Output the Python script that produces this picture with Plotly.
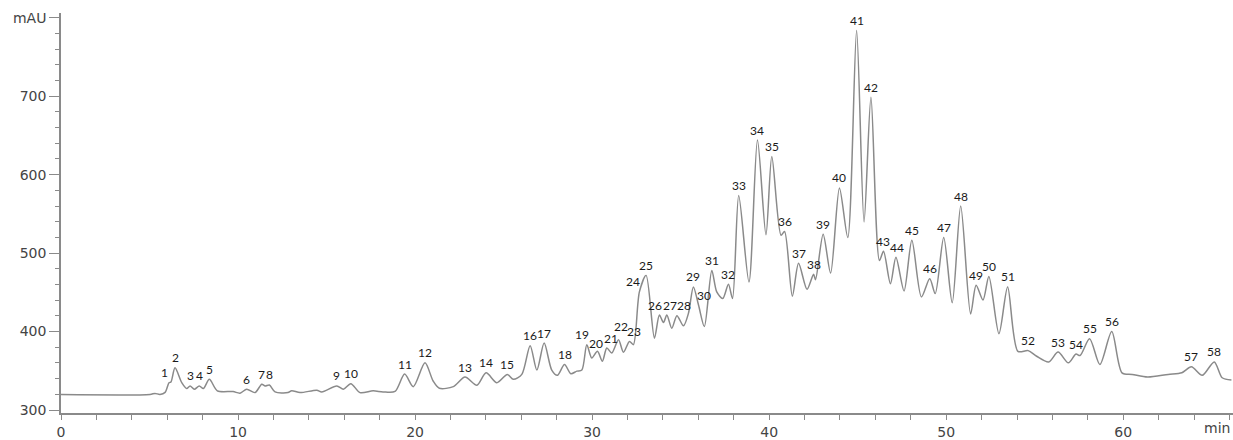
import plotly.graph_objects as go

# Chromatogram trace (time in min, signal in mAU)
trace_time = [0, 5.03, 5.31, 5.59, 5.88, 6.10, 6.21, 6.44, 6.82, 7.10, 7.29, 7.53, 7.81, 8.04, 8.38, 8.83,
              9.72, 10.11, 10.49, 10.96, 11.34, 11.53, 11.77, 12.09, 12.82, 13.03, 13.50, 14.45, 14.73,
              15.58, 15.95, 16.37, 16.89, 17.63, 18.19, 18.87, 19.41, 19.90, 20.56, 21.02, 21.37, 22.16,
              22.82, 23.49, 24.01, 24.62, 25.21, 25.55, 26.03, 26.50, 26.88, 27.29, 27.72, 28.04, 28.44,
              28.80, 29.14, 29.42, 29.70, 29.98, 30.30, 30.58, 30.83, 31.11, 31.49, 31.77, 32.11, 32.33,
              32.67, 33.05, 33.52, 33.80, 34.03, 34.22, 34.50, 34.79, 35.16, 35.44, 35.72, 36.01, 36.34,
              36.76, 37.04, 37.38, 37.70, 37.93, 38.28, 38.86, 39.34, 39.82, 40.15, 40.67, 40.87, 41.31,
              41.66, 42.14, 42.51, 42.62, 43.05, 43.47, 43.97, 44.44, 44.94, 45.36, 45.75, 46.23, 46.46,
              46.85, 47.16, 47.62, 48.06, 48.60, 49.07, 49.38, 49.86, 50.34, 50.82, 51.38, 51.69, 52.08,
              52.41, 52.98, 53.47, 54.05, 54.63, 55.11, 55.79, 56.32, 56.90, 57.33, 57.56, 58.10, 58.68,
              59.35, 59.93, 60.51, 61.38, 62.54, 63.31, 63.85, 64.46, 65.14, 65.59, 66.11]
trace_signal = [319.7, 319.9, 321.2, 319.9, 322.5, 334.8, 335.7, 353.8, 334.8, 327.3, 330.7, 326.5, 330.7,
                327.3, 339.1, 324.4, 323.5, 321.5, 326.5, 322.2, 332.8, 330.7, 331.9, 323.1, 322.2, 324.7,
                322.2, 325.2, 323.1, 330.7, 326.5, 333.6, 322.2, 324.4, 323.1, 323.7, 345.8, 329.8, 360.1,
                337.0, 327.8, 329.8, 342.0, 331.5, 347.4, 334.8, 345.4, 339.1, 345.4, 382.0, 350.9, 385.3,
                350.9, 344.2, 358.0, 346.2, 349.6, 350.9, 383.3, 366.4, 374.8, 362.2, 379.0, 372.7, 389.6,
                373.6, 387.4, 383.3, 450.5, 471.6, 391.6, 421.1, 411.4, 421.1, 404.2, 420.3, 407.3, 423.2,
                456.8, 433.8, 406.4, 477.9, 450.5, 442.1, 460.3, 442.1, 573.3, 463.2, 644.0, 523.3, 623.0,
                522.8, 527.5, 445.1, 487.1, 453.9, 472.9, 466.1, 524.1, 474.5, 583.0, 519.9, 783.7, 539.7,
                698.7, 490.5, 502.3, 461.0, 494.7, 451.8, 516.5, 444.2, 467.3, 448.4, 519.9, 436.7, 559.9,
                422.4, 459.0, 440.1, 470.3, 397.2, 456.8, 374.8, 375.7, 368.5, 361.3, 373.9, 360.1, 371.4,
                369.4, 390.9, 358.0, 400.1, 347.4, 345.4, 342.0, 345.4, 347.4, 355.0, 344.2, 361.3, 341.1,
                338.2]

# Labelled peaks 1..58 (apex time, apex signal)
peak_labels = [str(i) for i in range(1, 59)]
peak_time = [6.10, 6.44, 7.29, 7.81, 8.38, 10.49, 11.34, 11.77, 15.58, 16.37, 19.41, 20.56, 22.82, 24.01,
             25.21, 26.50, 27.29, 28.44, 29.70, 30.30, 30.83, 31.49, 32.11, 32.67, 33.05, 33.80, 34.22,
             34.79, 35.72, 36.01, 36.76, 37.70, 38.28, 39.34, 40.15, 40.87, 41.66, 42.51, 43.05, 43.97,
             44.94, 45.75, 46.46, 47.16, 48.06, 49.07, 49.86, 50.82, 51.69, 52.41, 53.47, 54.63, 56.32,
             57.33, 58.10, 59.35, 63.85, 65.14]
peak_signal = [334.8, 353.8, 330.7, 330.7, 339.1, 326.5, 332.8, 331.9, 330.7, 333.6, 345.8, 360.1, 342.0,
               347.4, 345.4, 382.0, 385.3, 358.0, 383.3, 374.8, 379.0, 389.6, 387.4, 450.5, 471.6, 421.1,
               421.1, 420.3, 456.8, 433.8, 477.9, 460.3, 573.3, 644.0, 623.0, 527.5, 487.1, 472.9, 524.1,
               583.0, 783.7, 698.7, 502.3, 494.7, 516.5, 467.3, 519.9, 559.9, 459.0, 470.3, 456.8, 375.7,
               373.9, 371.4, 390.9, 400.1, 355.0, 361.3]

y_tickvals = [300, 400, 500, 600, 700, 800]
y_ticktext = ["300", "400", "500", "600", "700", "mAU"]
x_tickvals = [0, 10, 20, 30, 40, 50, 60]

AXIS_COLOR = "#8a8a8a"
TEXT_COLOR = "#444444"
TICK_FONT = dict(family="DejaVu Sans", size=14, color=TEXT_COLOR)

fig = go.Figure()
fig.add_trace(go.Scatter(
    x=trace_time, y=trace_signal, mode="lines",
    line=dict(color="#8a8a8a", width=1.5, shape="spline", smoothing=0.8),
    hoverinfo="x+y", showlegend=False,
))

# label nudges (pixels) for crowded peaks
label_xshift = {"1": -4, "19": -5, "20": -1, "21": 4, "22": 2, "23": 5, "24": -6,
                "26": -4, "27": 3, "28": 7, "30": 5, "43": -1, "44": 1}
label_yshift = {"22": 13, "20": 8}
annotations = []
for lab, t, v in zip(peak_labels, peak_time, peak_signal):
    annotations.append(dict(
        x=t, y=v, xref="x", yref="y", text=lab, showarrow=False,
        yanchor="middle", xanchor="center",
        yshift=label_yshift.get(lab, 10), xshift=label_xshift.get(lab, 0),
        font=dict(family="Lato", size=12, color="#1a1a1a"),
    ))
annotations.append(dict(
    x=1, y=0, xref="paper", yref="paper", text="min", showarrow=False,
    xanchor="right", yanchor="top", yshift=-5, xshift=-1, font=TICK_FONT,
))
fig.update_layout(annotations=annotations)

fig.update_xaxes(
    range=[0, 66.2], showline=True, linecolor=AXIS_COLOR, linewidth=1.5,
    tickvals=x_tickvals, ticks="outside", ticklen=5, tickcolor=AXIS_COLOR, tickwidth=1,
    minor=dict(dtick=2, tick0=0, ticks="outside", ticklen=5, tickcolor=AXIS_COLOR),
    showgrid=False, zeroline=False, tickfont=TICK_FONT,
)
fig.update_yaxes(
    range=[296.2, 806], showline=True, linecolor=AXIS_COLOR, linewidth=1.5,
    tickvals=y_tickvals, ticktext=y_ticktext, ticks="outside", ticklen=10,
    tickcolor=AXIS_COLOR, tickwidth=1,
    minor=dict(dtick=20, tick0=300, ticks="outside", ticklen=4, tickcolor=AXIS_COLOR),
    showgrid=False, zeroline=False, tickfont=TICK_FONT,
)
fig.update_layout(
    width=1233, height=440,
    margin=dict(l=61, r=0, t=13, b=23),
    paper_bgcolor="white", plot_bgcolor="white",
)

fig.write_html("out.html", config={"displayModeBar": False},
               post_script="document.body.style.margin='0';")
